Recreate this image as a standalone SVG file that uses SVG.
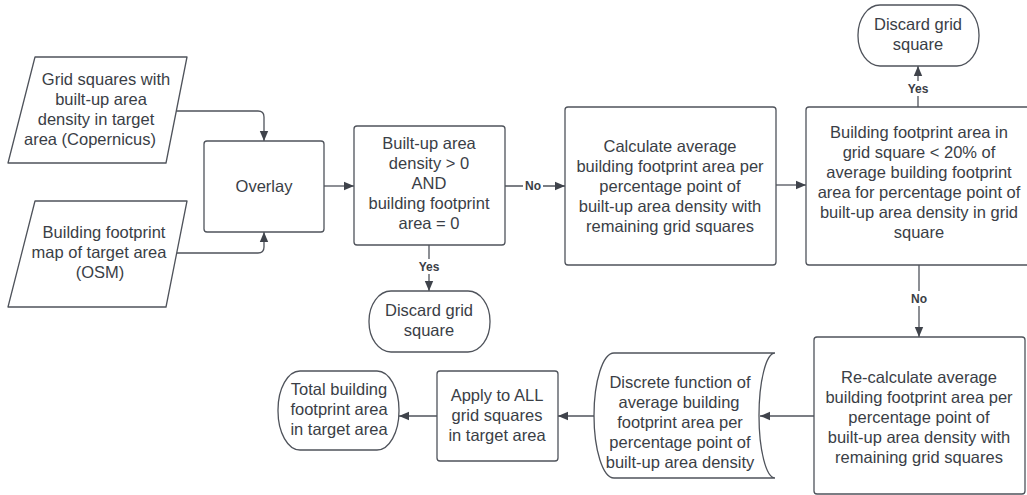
<svg xmlns="http://www.w3.org/2000/svg" width="1027" height="495" viewBox="0 0 1027 495">
<style>
.s{fill:#ffffff;stroke:#4f535b;stroke-width:1.3}
.t{font-family:"Liberation Sans",Arial,sans-serif;font-size:16.5px;fill:#3a3e46;text-anchor:middle}
.l{font-family:"Liberation Sans",Arial,sans-serif;font-size:12px;font-weight:bold;fill:#3a3e46;text-anchor:middle}
.c{fill:none;stroke:#4f535b;stroke-width:1.3}
.lb{fill:#ffffff}
</style>
<defs>
<marker id="ah" markerUnits="userSpaceOnUse" markerWidth="10" markerHeight="10" refX="10" refY="5" orient="auto">
<path d="M0,0.8 L10,5 L0,9.2 z" fill="#3f434b"/>
</marker>
</defs>
<rect width="1027" height="495" fill="#ffffff"/>
<g id="connectors">
<path class="c" d="M176,111 L258,111 Q264,111 264,117 L264,141" marker-end="url(#ah)"/>
<path class="c" d="M177,253 L258,253 Q264,253 264,247 L264,232" marker-end="url(#ah)"/>
<path class="c" d="M324,186 L354,186" marker-end="url(#ah)"/>
<path class="c" d="M505,186 L565,186" marker-end="url(#ah)"/>
<path class="c" d="M429,245 L429,291" marker-end="url(#ah)"/>
<path class="c" d="M776,185 L806,185" marker-end="url(#ah)"/>
<path class="c" d="M918,107 L918,66" marker-end="url(#ah)"/>
<path class="c" d="M919,265 L919,337" marker-end="url(#ah)"/>
<path class="c" d="M814,416 L760,416" marker-end="url(#ah)"/>
<path class="c" d="M595,416 L558,416" marker-end="url(#ah)"/>
<path class="c" d="M437,416 L399,416" marker-end="url(#ah)"/>
<rect class="lb" x="523" y="178" width="20" height="15"/>
<text class="l" x="533" y="190">No</text>
<rect class="lb" x="416" y="259" width="26" height="15"/>
<text class="l" x="429" y="271">Yes</text>
<rect class="lb" x="905" y="81" width="26" height="15"/>
<text class="l" x="918" y="93">Yes</text>
<rect class="lb" x="909" y="291" width="20" height="15"/>
<text class="l" x="919" y="303">No</text>
</g>
<g id="n_grid">
<path class="s" d="M35,57 L187,57 L166,163 L8,163 Z" stroke-linejoin="round"/>
<text class="t" x="106" y="85">Grid squares with</text>
<text class="t" x="101" y="105">built-up area</text>
<text class="t" x="96" y="125">density in target</text>
<text class="t" x="90" y="145">area (Copernicus)</text>
</g>
<g id="n_osm">
<path class="s" d="M35,201 L187,201 L166,307 L8,307 Z" stroke-linejoin="round"/>
<text class="t" x="104" y="238">Building footprint</text>
<text class="t" x="99" y="258">map of target area</text>
<text class="t" x="100" y="278">(OSM)</text>
</g>
<g id="n_overlay">
<rect class="s" x="204" y="141" width="120" height="91" rx="3"/>
<text class="t" x="264" y="192">Overlay</text>
</g>
<g id="n_decision1">
<rect class="s" x="354" y="126" width="151" height="119" rx="3"/>
<text class="t" x="429" y="149">Built-up area</text>
<text class="t" x="429" y="169">density &gt; 0</text>
<text class="t" x="429" y="189">AND</text>
<text class="t" x="429" y="209">building footprint</text>
<text class="t" x="429" y="229">area = 0</text>
</g>
<g id="n_discard1">
<rect class="s" x="369" y="291" width="121" height="61" rx="22" ry="30"/>
<text class="t" x="429" y="316">Discard grid</text>
<text class="t" x="429" y="336">square</text>
</g>
<g id="n_calc">
<rect class="s" x="565" y="107" width="211" height="158" rx="3"/>
<text class="t" x="670" y="152">Calculate average</text>
<text class="t" x="670" y="172">building footprint area per</text>
<text class="t" x="670" y="192">percentage point of</text>
<text class="t" x="670" y="212">built-up area density with</text>
<text class="t" x="670" y="232">remaining grid squares</text>
</g>
<g id="n_decision2">
<rect class="s" x="806" y="107" width="226" height="158" rx="3"/>
<text class="t" x="919" y="138">Building footprint area in</text>
<text class="t" x="919" y="158">grid square &lt; 20% of</text>
<text class="t" x="919" y="178">average building footprint</text>
<text class="t" x="919" y="198">area for percentage point of</text>
<text class="t" x="919" y="218">built-up area density in grid</text>
<text class="t" x="919" y="238">square</text>
</g>
<g id="n_discard2">
<rect class="s" x="858" y="5" width="121" height="61" rx="22" ry="30"/>
<text class="t" x="918" y="30">Discard grid</text>
<text class="t" x="918" y="50">square</text>
</g>
<g id="n_recalc">
<rect class="s" x="814" y="337" width="211" height="157" rx="3"/>
<text class="t" x="919" y="383">Re-calculate average</text>
<text class="t" x="919" y="403">building footprint area per</text>
<text class="t" x="919" y="423">percentage point of</text>
<text class="t" x="919" y="443">built-up area density with</text>
<text class="t" x="919" y="463">remaining grid squares</text>
</g>
<g id="n_discrete">
<path class="s" d="M614,353 L775,353 A16,62.5 0 0 0 775,478 L614,478 A20,62.5 0 0 1 614,353 Z"/>
<text class="t" x="680" y="388">Discrete function of</text>
<text class="t" x="679" y="408">average building</text>
<text class="t" x="680" y="428">footprint area per</text>
<text class="t" x="680" y="448">percentage point of</text>
<text class="t" x="680" y="468">built-up area density</text>
</g>
<g id="n_apply">
<rect class="s" x="437" y="371" width="121" height="90" rx="3"/>
<text class="t" x="497" y="401">Apply to ALL</text>
<text class="t" x="497" y="421">grid squares</text>
<text class="t" x="497" y="441">in target area</text>
</g>
<g id="n_total">
<rect class="s" x="278" y="371" width="121" height="79" rx="22" ry="39"/>
<text class="t" x="339" y="395">Total building</text>
<text class="t" x="339" y="415">footprint area</text>
<text class="t" x="339" y="435">in target area</text>
</g>
</svg>
